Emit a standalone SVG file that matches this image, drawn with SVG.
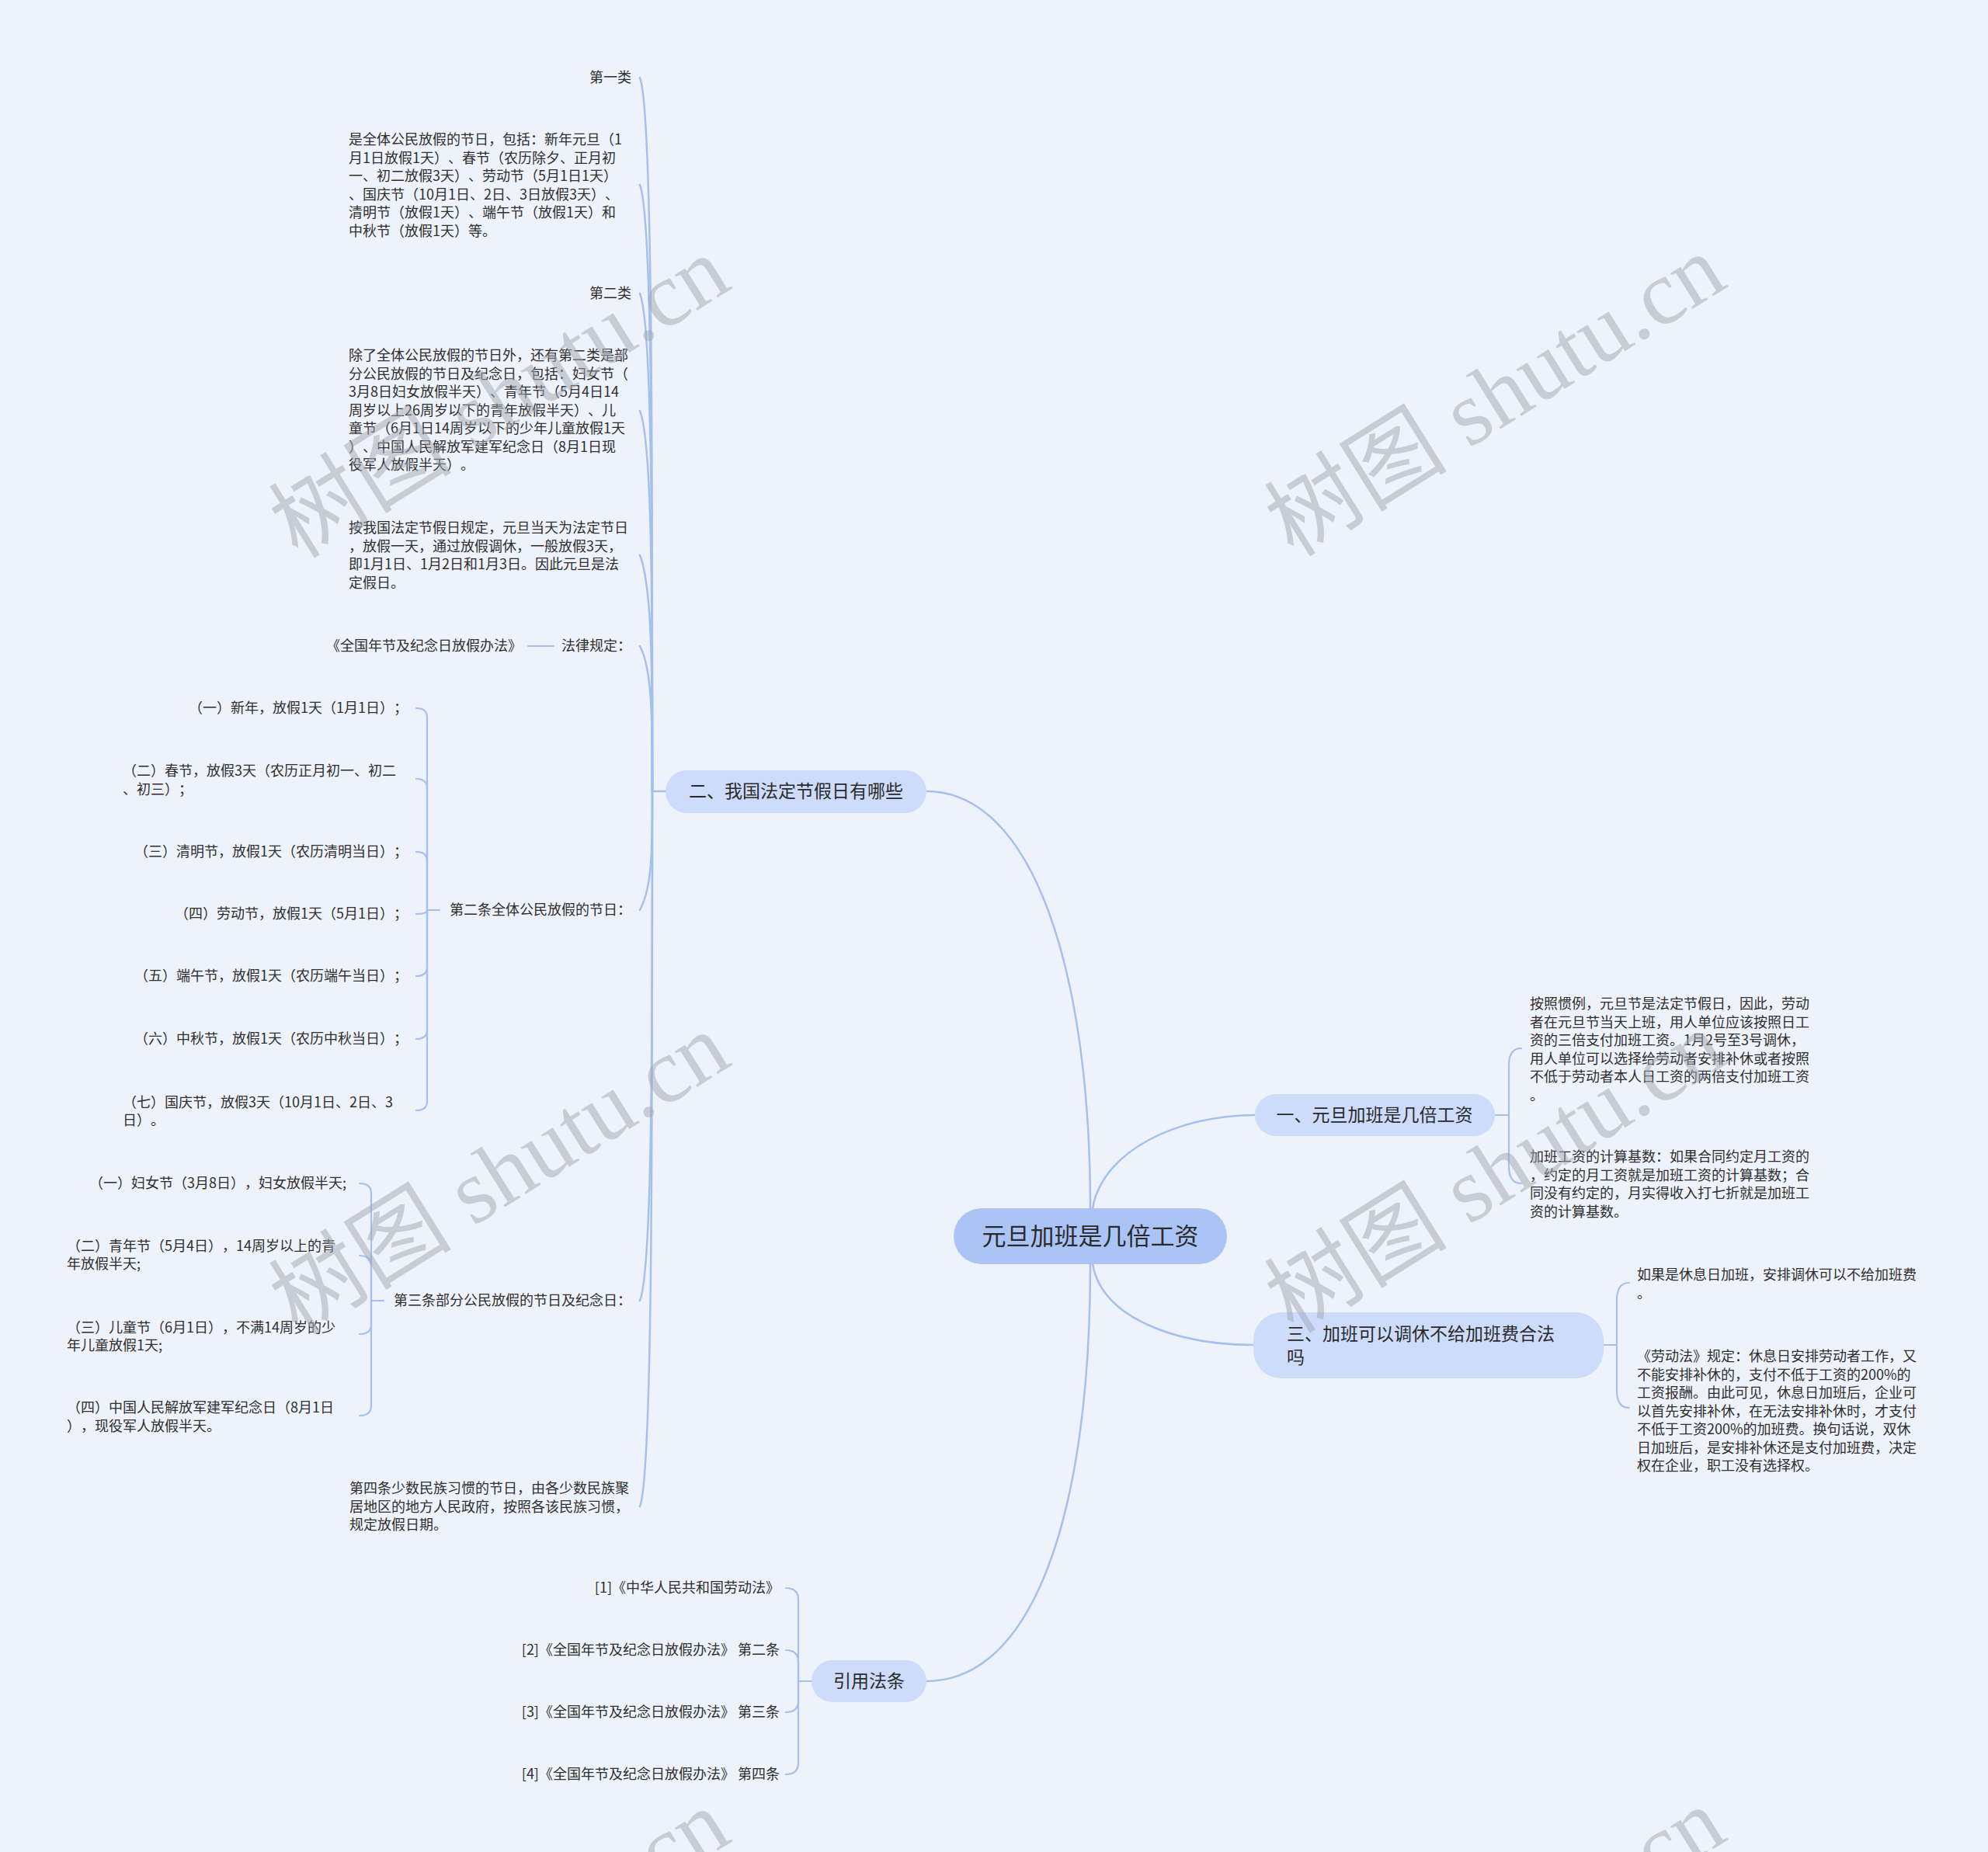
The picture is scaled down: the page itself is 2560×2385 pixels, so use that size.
<svg xmlns="http://www.w3.org/2000/svg" width="2560" height="2385" viewBox="0 0 2560 2385">
<style>
text{text-spacing-trim:space-all;font-feature-settings:"chws" 0,"halt" 0,"palt" 0;font-kerning:none}
.t{font-family:"Noto Sans CJK SC","Noto Sans",sans-serif;font-size:18px;fill:#2e2e2e}
.e{text-anchor:end}
.l1{font-family:"Noto Sans CJK SC","Noto Sans",sans-serif;font-size:23px;fill:#2a2a2a}
.rt{font-family:"Noto Sans CJK SC","Noto Sans",sans-serif;font-size:31px;fill:#2a2a2a;text-anchor:middle}
.c{fill:none;stroke:#a6c0ee;stroke-width:2.5;stroke-linecap:round}
.b{fill:none;stroke:#a6c0ee;stroke-width:2.2;stroke-linecap:round}
.p1{fill:#cddcfa}
.wm{font-family:"Liberation Serif","Noto Sans CJK SC",serif;font-size:118px;fill:#a3a8b1;opacity:0.5}
</style>
<rect width="2560" height="2385" fill="#eef3fb"/>

<g id="connectors">
  <path class="c" d="M1404,1556 C1404,1250 1330,1019 1193,1019"/>
  <path class="c" d="M1404,1628 C1404,1950 1330,2165 1193,2165"/>
  <path class="c" d="M1407,1556 C1420,1480 1520,1436 1616,1436"/>
  <path class="c" d="M1407,1628 C1420,1700 1520,1732 1614,1732"/>
  <path class="c" d="M857,1019 H840"/>
  <path class="c" d="M840,1019 C840,560 840,140 824,100"/>
  <path class="c" d="M840,1019 C840,630 840,278 824,238"/>
  <path class="c" d="M840,1019 C840,700 840,418 824,378"/>
  <path class="c" d="M840,1019 C840,774 840,569 824,529"/>
  <path class="c" d="M840,1019 C840,867 840,755 824,715"/>
  <path class="c" d="M840,1019 C840,926 840,862 824,832"/>
  <path class="c" d="M840,1019 C840,1095 840,1142 824,1172"/>
  <path class="c" d="M840,1019 C840,1347 840,1635 824,1675"/>
  <path class="c" d="M840,1019 C840,1480 840,1900 824,1940"/>
  <path class="b" d="M713,832 H680"/>
  <path class="b" d="M566,1172 H550"/>
  <path class="b" d="M550,1172 V924 Q550,912 536,912"/>
  <path class="b" d="M550,1172 V1015 Q550,1003 536,1003"/>
  <path class="b" d="M550,1172 V1109 Q550,1097 536,1097"/>
  <path class="b" d="M550,1172 Q550,1177 536,1177"/>
  <path class="b" d="M550,1172 V1245 Q550,1257 536,1257"/>
  <path class="b" d="M550,1172 V1326 Q550,1338 536,1338"/>
  <path class="b" d="M550,1172 V1418 Q550,1430 536,1430"/>
  <path class="b" d="M494,1675 H478"/>
  <path class="b" d="M478,1675 V1537 Q478,1524 463,1524"/>
  <path class="b" d="M478,1675 V1630 Q478,1617 463,1617"/>
  <path class="b" d="M478,1675 V1706 Q478,1718 463,1718"/>
  <path class="b" d="M478,1675 V1810 Q478,1823 463,1823"/>
  <path class="b" d="M1045,2165 H1028"/>
  <path class="b" d="M1028,2165 V2060 Q1028,2045 1012,2045"/>
  <path class="b" d="M1028,2165 V2140 Q1028,2125 1012,2125"/>
  <path class="b" d="M1028,2165 V2190 Q1028,2205 1012,2205"/>
  <path class="b" d="M1028,2165 V2270 Q1028,2285 1012,2285"/>
  <path class="b" d="M1925,1436 H1943"/>
  <path class="b" d="M1943,1436 V1372 Q1943,1350 1959,1350"/>
  <path class="b" d="M1943,1436 V1502 Q1943,1524 1959,1524"/>
  <path class="b" d="M2065,1732 H2082"/>
  <path class="b" d="M2082,1732 V1674 Q2082,1652 2098,1652"/>
  <path class="b" d="M2082,1732 V1791 Q2082,1813 2098,1813"/>
</g>

<g id="root">
  <rect x="1228" y="1556" width="352" height="72" rx="36" fill="#aac4f8"/>
  <text class="rt" x="1404" y="1603">元旦加班是几倍工资</text>
</g>

<g id="n-er">
  <rect class="p1" x="857" y="992" width="336" height="55" rx="27.5"/>
  <text class="l1" x="1025" y="1027" text-anchor="middle">二、我国法定节假日有哪些</text>
</g>
<g id="n-yi">
  <rect class="p1" x="1616" y="1409" width="309" height="54" rx="27"/>
  <text class="l1" x="1770" y="1444" text-anchor="middle">一、元旦加班是几倍工资</text>
</g>
<g id="n-san">
  <rect class="p1" x="1614" y="1690" width="451" height="85" rx="36"/>
  <text class="l1" x="1657" y="1726">三、加班可以调休不给加班费合法</text>
  <text class="l1" x="1657" y="1756">吗</text>
</g>
<g id="n-yinyong">
  <rect class="p1" x="1045" y="2138" width="148" height="54" rx="27"/>
  <text class="l1" x="1119" y="2173" text-anchor="middle">引用法条</text>
</g>

<g id="n-diyilei"><text class="t e" x="813" y="106">第一类</text></g>
<g id="n-quanti">
  <text class="t" x="449" y="186">是全体公民放假的节日，包括：新年元旦（1</text>
  <text class="t" x="449" y="209.5">月1日放假1天）、春节（农历除夕、正月初</text>
  <text class="t" x="449" y="233">一、初二放假3天）、劳动节（5月1日1天）</text>
  <text class="t" x="449" y="256.5">、国庆节（10月1日、2日、3日放假3天）、</text>
  <text class="t" x="449" y="280">清明节（放假1天）、端午节（放假1天）和</text>
  <text class="t" x="449" y="303.5">中秋节（放假1天）等。</text>
</g>
<g id="n-dierlei"><text class="t e" x="813" y="384">第二类</text></g>
<g id="n-chule">
  <text class="t" x="449" y="464">除了全体公民放假的节日外，还有第二类是部</text>
  <text class="t" x="449" y="487.5">分公民放假的节日及纪念日，包括：妇女节（</text>
  <text class="t" x="449" y="511">3月8日妇女放假半天）、青年节（5月4日14</text>
  <text class="t" x="449" y="534.5">周岁以上26周岁以下的青年放假半天）、儿</text>
  <text class="t" x="449" y="558">童节（6月1日14周岁以下的少年儿童放假1天</text>
  <text class="t" x="449" y="581.5">）、中国人民解放军建军纪念日（8月1日现</text>
  <text class="t" x="449" y="605">役军人放假半天）。</text>
</g>
<g id="n-anwoguo">
  <text class="t" x="449" y="686">按我国法定节假日规定，元旦当天为法定节日</text>
  <text class="t" x="449" y="709.5">，放假一天，通过放假调休，一般放假3天，</text>
  <text class="t" x="449" y="733">即1月1日、1月2日和1月3日。因此元旦是法</text>
  <text class="t" x="449" y="756.5">定假日。</text>
</g>
<g id="n-falv"><text class="t e" x="813" y="838">法律规定：</text></g>
<g id="n-banfa"><text class="t e" x="672" y="838">《全国年节及纪念日放假办法》</text></g>

<g id="n-dier"><text class="t e" x="813" y="1178">第二条全体公民放假的节日：</text></g>
<g id="n-d2-1"><text class="t e" x="525" y="918">（一）新年，放假1天（1月1日）；</text></g>
<g id="n-d2-2">
  <text class="t" x="158" y="999">（二）春节，放假3天（农历正月初一、初二</text>
  <text class="t" x="158" y="1023">、初三）；</text>
</g>
<g id="n-d2-3"><text class="t e" x="525" y="1103">（三）清明节，放假1天（农历清明当日）；</text></g>
<g id="n-d2-4"><text class="t e" x="525" y="1183">（四）劳动节，放假1天（5月1日）；</text></g>
<g id="n-d2-5"><text class="t e" x="525" y="1263">（五）端午节，放假1天（农历端午当日）；</text></g>
<g id="n-d2-6"><text class="t e" x="525" y="1344">（六）中秋节，放假1天（农历中秋当日）；</text></g>
<g id="n-d2-7">
  <text class="t" x="158" y="1426">（七）国庆节，放假3天（10月1日、2日、3</text>
  <text class="t" x="158" y="1449">日）。</text>
</g>

<g id="n-disan"><text class="t e" x="813" y="1681">第三条部分公民放假的节日及纪念日：</text></g>
<g id="n-d3-1"><text class="t e" x="446" y="1530">（一）妇女节（3月8日），妇女放假半天;</text></g>
<g id="n-d3-2">
  <text class="t" x="86" y="1611">（二）青年节（5月4日），14周岁以上的青</text>
  <text class="t" x="86" y="1634">年放假半天;</text>
</g>
<g id="n-d3-3">
  <text class="t" x="86" y="1716">（三）儿童节（6月1日），不满14周岁的少</text>
  <text class="t" x="86" y="1739">年儿童放假1天;</text>
</g>
<g id="n-d3-4">
  <text class="t" x="86" y="1819">（四）中国人民解放军建军纪念日（8月1日</text>
  <text class="t" x="86" y="1843">），现役军人放假半天。</text>
</g>

<g id="n-disi">
  <text class="t" x="450" y="1923">第四条少数民族习惯的节日，由各少数民族聚</text>
  <text class="t" x="450" y="1946.5">居地区的地方人民政府，按照各该民族习惯，</text>
  <text class="t" x="450" y="1970">规定放假日期。</text>
</g>

<g id="n-ref1"><text class="t e" x="1004" y="2051">[1]《中华人民共和国劳动法》</text></g>
<g id="n-ref2"><text class="t e" x="1004" y="2131">[2]《全国年节及纪念日放假办法》 第二条</text></g>
<g id="n-ref3"><text class="t e" x="1004" y="2211">[3]《全国年节及纪念日放假办法》 第三条</text></g>
<g id="n-ref4"><text class="t e" x="1004" y="2291">[4]《全国年节及纪念日放假办法》 第四条</text></g>

<g id="n-yi-1">
  <text class="t" x="1970" y="1299">按照惯例，元旦节是法定节假日，因此，劳动</text>
  <text class="t" x="1970" y="1322.5">者在元旦节当天上班，用人单位应该按照日工</text>
  <text class="t" x="1970" y="1346">资的三倍支付加班工资。1月2号至3号调休，</text>
  <text class="t" x="1970" y="1369.5">用人单位可以选择给劳动者安排补休或者按照</text>
  <text class="t" x="1970" y="1393">不低于劳动者本人日工资的两倍支付加班工资</text>
  <text class="t" x="1970" y="1416.5">。</text>
</g>
<g id="n-yi-2">
  <text class="t" x="1970" y="1496">加班工资的计算基数：如果合同约定月工资的</text>
  <text class="t" x="1970" y="1519.5">，约定的月工资就是加班工资的计算基数；合</text>
  <text class="t" x="1970" y="1543">同没有约定的，月实得收入打七折就是加班工</text>
  <text class="t" x="1970" y="1566.5">资的计算基数。</text>
</g>
<g id="n-san-1">
  <text class="t" x="2108" y="1648">如果是休息日加班，安排调休可以不给加班费</text>
  <text class="t" x="2108" y="1672">。</text>
</g>
<g id="n-san-2">
  <text class="t" x="2108" y="1753">《劳动法》规定：休息日安排劳动者工作，又</text>
  <text class="t" x="2108" y="1776.5">不能安排补休的，支付不低于工资的200%的</text>
  <text class="t" x="2108" y="1800">工资报酬。由此可见，休息日加班后，企业可</text>
  <text class="t" x="2108" y="1823.5">以首先安排补休，在无法安排补休时，才支付</text>
  <text class="t" x="2108" y="1847">不低于工资200%的加班费。换句话说，双休</text>
  <text class="t" x="2108" y="1870.5">日加班后，是安排补休还是支付加班费，决定</text>
  <text class="t" x="2108" y="1894">权在企业，职工没有选择权。</text>
</g>

<g id="watermarks">
  <text class="wm" transform="translate(645,514) rotate(-32)" text-anchor="middle" y="37">树图 shutu.cn</text>
  <text class="wm" transform="translate(1927,512) rotate(-32)" text-anchor="middle" y="37">树图 shutu.cn</text>
  <text class="wm" transform="translate(645,1514) rotate(-32)" text-anchor="middle" y="37">树图 shutu.cn</text>
  <text class="wm" transform="translate(1927,1512) rotate(-32)" text-anchor="middle" y="37">树图 shutu.cn</text>
  <text class="wm" transform="translate(645,2514) rotate(-32)" text-anchor="middle" y="37">树图 shutu.cn</text>
  <text class="wm" transform="translate(1927,2512) rotate(-32)" text-anchor="middle" y="37">树图 shutu.cn</text>
</g>
</svg>
